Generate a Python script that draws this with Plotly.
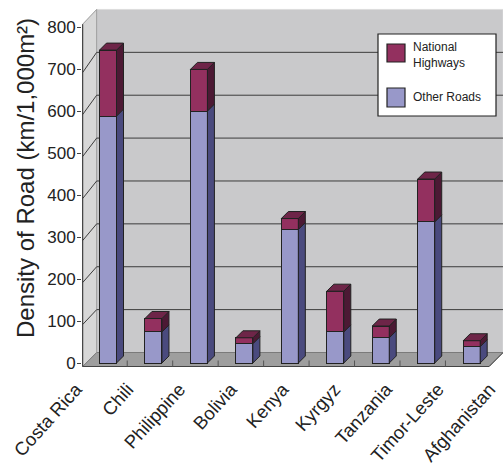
import plotly.graph_objects as go

# ---- data -------------------------------------------------------------
categories = ["Costa Rica", "Chili", "Philippine", "Bolivia", "Kenya",
              "Kyrgyz", "Tanzania", "Timor-Leste", "Afghanistan"]
other_roads = [588, 74, 600, 46, 318, 74, 60, 336, 39]
national_highways = [157, 32, 99, 14, 26, 97, 28, 102, 14]
y_ticks = [0, 100, 200, 300, 400, 500, 600, 700, 800]
legend_names = ["National<br>Highways", "Other Roads"]
y_title = "Density of Road (km/1,000m²)"

# ---- geometry of the pseudo-3D box ------------------------------------
FIG_W, FIG_H = 503, 469
PLOT_L, PLOT_R, PLOT_T, PLOT_B = 82, 503, 6, 369
X0_PX, X_UNIT = 108.0, 45.46      # pixel of first category, px per category
Y0_PX, Y_UNIT = 363.0, 0.42       # pixel of value 0, px per value unit
x_range = [(PLOT_L - X0_PX) / X_UNIT, (PLOT_R - X0_PX) / X_UNIT]
y_range = [(Y0_PX - PLOT_B) / Y_UNIT, (Y0_PX - PLOT_T) / Y_UNIT]

# category labels fan out a little wider than the bars (perspective),
# so they sit on their own overlaid axis
LBL0_PX, LBL_UNIT = 86.0, 51.7
x2_range = [(PLOT_L - LBL0_PX) / LBL_UNIT, (PLOT_R - LBL0_PX) / LBL_UNIT]

FRONT_D, BACK_D, BAR_D = -3.5, 10.5, 7.0   # depth offsets in px
BAR_W = 17.0 / X_UNIT
X_LEFT, X_RIGHT = -0.48, 8.46
FRONT_TOP, WALL_TOP = 815, 800
PERSP = 1.021                               # back wall slightly larger scale

COL = {
    "other": ("#9898c9", "#4a4a7e", "#7676a8"),
    "national": ("#93305f", "#4c1934", "#6e2548"),
}
FONT = "Liberation Sans, Arial"


def proj(x, v, depth):
    """Shift a point of the bar plane back by `depth` pixels (oblique view)."""
    return x + depth / X_UNIT, v + depth / Y_UNIT


def path(points):
    return "M" + " L".join(f"{x:.4f},{y:.4f}" for x, y in points) + " Z"


def poly(points, fill, line="#222222", width=1, layer="below"):
    return dict(type="path", xref="x", yref="y", path=path(points),
                fillcolor=fill, line=dict(color=line, width=width), layer=layer)


def seg(p, q, color, width=1, layer="below"):
    return dict(type="line", xref="x", yref="y", x0=p[0], y0=p[1], x1=q[0], y1=q[1],
                line=dict(color=color, width=width), layer=layer)


shapes = []
# walls and floor
shapes.append(poly([proj(X_LEFT, 0, BACK_D), proj(X_RIGHT, 0, BACK_D),
                    proj(X_RIGHT, WALL_TOP * PERSP, BACK_D),
                    proj(X_LEFT, WALL_TOP * PERSP, BACK_D)], "#c9c9cb", "#dcdcdc"))
shapes.append(poly([proj(X_LEFT, 0, FRONT_D), proj(X_LEFT, 0, BACK_D),
                    proj(X_LEFT, WALL_TOP * PERSP, BACK_D),
                    proj(X_LEFT, FRONT_TOP, FRONT_D)], "#d7d7d7", "#9a9a9a"))
shapes.append(poly([proj(X_LEFT, 0, FRONT_D), proj(X_RIGHT, 0, FRONT_D),
                    proj(X_RIGHT, 0, BACK_D), proj(X_LEFT, 0, BACK_D)],
                   "#9e9e9e", "#7a7a7a"))
# gridlines on back and left walls
for v in y_ticks[1:-1]:
    shapes.append(seg(proj(X_LEFT, v * PERSP, BACK_D), proj(X_RIGHT, v * PERSP, BACK_D), "#3c3c3c"))
    shapes.append(seg(proj(X_LEFT, v, FRONT_D), proj(X_LEFT, v * PERSP, BACK_D), "#3c3c3c"))
# front edges
shapes.append(seg(proj(X_LEFT, 0, FRONT_D), proj(X_LEFT, FRONT_TOP, FRONT_D), "#333333"))
shapes.append(seg(proj(X_LEFT, 0, FRONT_D), proj(X_RIGHT, 0, FRONT_D), "#444444"))
shapes.append(seg(proj(X_RIGHT, 0, FRONT_D), proj(X_RIGHT, 0, BACK_D), "#444444"))
# category separators on the floor
for i in range(len(categories) - 1):
    bx, by = proj(i + 0.5, 0, FRONT_D)
    shapes.append(seg((bx, by), (bx, by + 6 / Y_UNIT), "#555555"))

# side and top faces of each stacked bar
for i in range(len(categories)):
    base = 0
    for key, val in (("other", other_roads[i]), ("national", national_highways[i])):
        front, side, top = COL[key]
        top_v = base + val
        xr = i + BAR_W / 2
        shapes.append(poly([(xr, base), proj(xr, base, BAR_D),
                            proj(xr, top_v, BAR_D), (xr, top_v)], side, "#222222",
                           layer="above"))
        base = top_v
    xl, xr = i - BAR_W / 2, i + BAR_W / 2
    shapes.append(poly([(xl, base), (xr, base), proj(xr, base, BAR_D),
                        proj(xl, base, BAR_D)], COL["national"][2], "#222222",
                       layer="above"))

fig = go.Figure()
idx = list(range(len(categories)))
fig.add_trace(go.Bar(x=idx, y=other_roads, width=BAR_W, name="Other Roads",
                     marker=dict(color=COL["other"][0], line=dict(color="#222222", width=1)),
                     showlegend=False))
fig.add_trace(go.Bar(x=idx, y=national_highways, width=BAR_W, name="National Highways",
                     marker=dict(color=COL["national"][0], line=dict(color="#222222", width=1)),
                     showlegend=False))
# invisible carrier so the label axis gets drawn
fig.add_trace(go.Scatter(x=idx, y=[0] * len(idx), xaxis="x2", yaxis="y", mode="markers",
                         marker=dict(opacity=0), hoverinfo="skip", showlegend=False))

# helpers for paper coordinates
PW, PH = PLOT_R - PLOT_L, PLOT_B - PLOT_T


def px(xp):
    return (xp - PLOT_L) / PW


def py(yp):
    return (PLOT_B - yp) / PH


annotations = []

# legend box
shapes.append(dict(type="rect", xref="paper", yref="paper", x0=px(378), x1=px(496),
                   y0=py(116), y1=py(34), fillcolor="white",
                   line=dict(color="#222222", width=1.2), layer="above"))
legend_rows = [(legend_names[0], COL["national"][0], 44, 62, 55.5),
               (legend_names[1], COL["other"][0], 88, 107, 96.5)]
for name, color, y0, y1, yc in legend_rows:
    shapes.append(dict(type="rect", xref="paper", yref="paper", x0=px(387), x1=px(405),
                       y0=py(y1), y1=py(y0), fillcolor=color,
                       line=dict(color="#222222", width=1.2), layer="above"))
    annotations.append(dict(xref="paper", yref="paper", x=px(411), y=py(yc), text=name,
                            showarrow=False, xanchor="left", yanchor="middle", align="left",
                            font=dict(family=FONT, size=12, color="#222222")))

# value axis title
annotations.append(dict(xref="paper", yref="paper", x=px(25), y=py(178), text=y_title,
                        textangle=-90, showarrow=False, xanchor="center", yanchor="middle",
                        font=dict(family=FONT, size=24, color="#222222")))

fig.update_layout(
    width=FIG_W, height=FIG_H,
    margin=dict(l=PLOT_L, r=FIG_W - PLOT_R, t=PLOT_T, b=FIG_H - PLOT_B),
    barmode="stack",
    paper_bgcolor="white", plot_bgcolor="white",
    shapes=shapes, annotations=annotations,
    showlegend=False,
    xaxis=dict(range=x_range, showgrid=False, zeroline=False, showline=False,
               ticks="", showticklabels=False),
    xaxis2=dict(range=x2_range, overlaying="x", anchor="y", side="bottom",
                tickmode="array", tickvals=idx, ticktext=categories,
                tickangle=-48, showgrid=False, zeroline=False, showline=False, ticks="",
                ticklabelshift=-10, ticklabelstandoff=5, ticklabeloverflow="allow",
                tickfont=dict(family=FONT, size=18.5, color="#222222")),
    yaxis=dict(range=y_range, tickmode="array", tickvals=y_ticks, showgrid=False,
               zeroline=False, showline=False, ticks="outside", ticklen=4,
               tickcolor="#444444", ticklabelstandoff=-2,
               tickfont=dict(family=FONT, size=17, color="#222222")),
)

fig.write_html("out.html")
